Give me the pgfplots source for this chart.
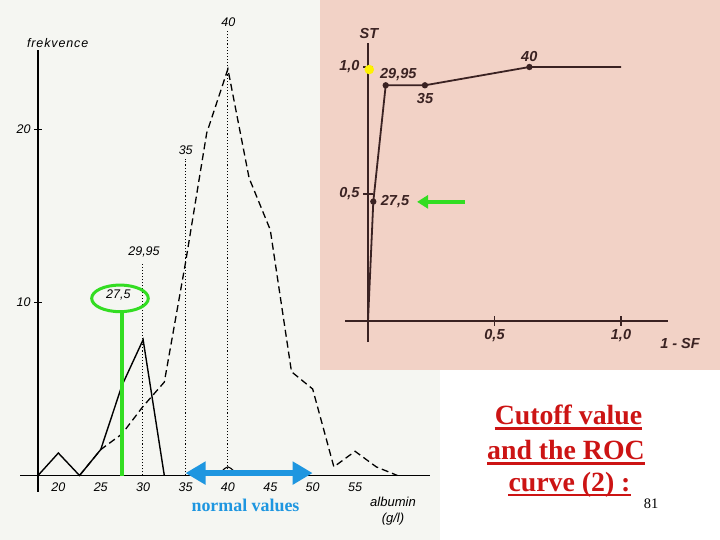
\documentclass[border=0pt]{standalone}
\usepackage{fontspec}
\setmainfont{Liberation Serif}
\setsansfont{Liberation Sans}
\usepackage{pgfplots}
\pgfplotsset{compat=1.18}
\usetikzlibrary{arrows.meta}
\definecolor{leftbg}{HTML}{F5F6F2}
\definecolor{pinkbg}{HTML}{F2D2C6}
\definecolor{rocline}{HTML}{3A2222}
\definecolor{mygreen}{HTML}{33DD22}
\definecolor{myblue}{HTML}{1E96E0}
\definecolor{myred}{HTML}{CC1414}
\definecolor{myyellow}{HTML}{FFF200}
\newcommand{\lab}{\sffamily\itshape\fontsize{12.5}{15}\selectfont}
\newcommand{\rlab}{\sffamily\bfseries\itshape\fontsize{14.5}{17}\selectfont}
\newcommand{\redfont}{\rmfamily\bfseries\fontsize{27.8}{33}\selectfont}
\begin{document}
\begin{tikzpicture}
\fill[white] (0pt,0pt) rectangle (720pt,-540pt);
\fill[leftbg] (0pt,0pt) rectangle (440pt,-540pt);
\fill[pinkbg] (320pt,0pt) rectangle (720pt,-370pt);

% ---------------- left chart: frequency polygons ----------------
\begin{axis}[at={(38pt,-475.5pt)}, anchor=south west, scale only axis,
  width=392pt, height=425.5pt,
  xmin=17.6, xmax=63.84, ymin=0, ymax=24.6, clip=false,
  axis line style={draw=none},
  xtick={20,25,...,55}, ytick={10,20},
  tick pos=left, tick align=center, major tick length=8pt,
  xtick style={draw=none}, ytick style={black, line width=1.2pt},
  ticklabel style={font=\lab},
  /pgf/number format/assume math mode=true,
]
\draw[black, line width=1.3pt] (axis cs:15.5,0) -- (axis cs:63.84,0);
\draw[black, line width=1.3pt] (axis cs:17.6,-0.95) -- (axis cs:17.6,24.6);
\addplot[black, dotted, line width=1.1pt, forget plot] coordinates {(29.95,0) (29.95,12.3)};
\addplot[black, dotted, line width=1.1pt, forget plot] coordinates {(35,0) (35,18.3)};
\addplot[black, dotted, line width=1.1pt, forget plot] coordinates {(40,0) (40,25.8)};
% sick (solid)
\addplot[black, line width=1.4pt, sharp plot] coordinates {
 (17.6,0) (20,1.3) (22.5,0) (25,1.5) (27.5,5.2) (30,7.85) (32.5,0)};
\addplot[black, line width=1.1pt, smooth] coordinates {(38.8,0) (40,0.5) (41.2,0)};
% healthy (dashed)
\addplot[black, line width=1.3pt, sharp plot, dash pattern=on 7pt off 4pt] coordinates {
 (22.5,0) (25,1.5) (27.5,2.4) (30,4.0) (32.5,5.4) (35,12.3) (37.5,19.8) (40,23.5)
 (42.5,17.2) (45,14.2) (47.5,6.0) (50,5.0) (52.5,0.5) (55,1.4) (57.5,0.5) (60,0)};
% annotations
\draw[mygreen, line width=4pt] (axis cs:27.5,0) -- (axis cs:27.5,9.5);
\draw[mygreen, line width=3pt] (axis cs:27.27,10.24) ellipse [x radius=28.3pt, y radius=13.3pt];
\draw[myblue, line width=6pt, {Triangle[length=20pt,width=22pt]}-{Triangle[length=20pt,width=22pt]}]
  (axis cs:35,0.14) -- (axis cs:50,0.14);
\end{axis}

\node[font=\lab] at (57.7pt,-43.3pt) {\addfontfeatures{LetterSpace=7}frekvence};
\node[font=\lab] at (144pt,-252pt) {29,95};
\node[font=\lab] at (185.7pt,-150pt) {35};
\node[font=\lab] at (228.3pt,-21.7pt) {40};
\node[font=\lab] at (118.3pt,-295pt) {27,5};
\node[font=\lab\fontsize{13}{16}\selectfont, align=center] at (393pt,-511pt) {albumin\\(g/l)};
\node[font=\rmfamily\bfseries\fontsize{17.9}{20}\selectfont, text=myblue, anchor=base] at (245.5pt,-511.5pt) {normal values};

% ---------------- right chart: ROC curve ----------------
\begin{axis}[at={(345pt,-342pt)}, anchor=south west, scale only axis,
  width=323pt, height=299pt,
  xmin=-0.0909, xmax=1.1858, ymin=-0.0827, ymax=1.0945, clip=false,
  axis lines=middle, axis line style={-, rocline, line width=1.6pt},
  xtick={0.5,1}, ytick={0.5,1},
  xticklabels={{0,5},{1,0}}, yticklabels={{0,5},{1,0}},
  tick style={rocline, line width=1.4pt}, major tick length=10pt,
  ticklabel style={font=\rlab, text=rocline},
]
\addplot[rocline, line width=1.8pt, sharp plot, mark=*, mark size=2.2pt, mark indices={2,3,4,5}]
  coordinates {(0,0) (0.021,0.47) (0.070,0.928) (0.225,0.928) (0.638,1.0) (1.0,1.0)};
\fill[myyellow] (axis cs:0.005,0.99) circle[radius=4.8pt];
\draw[mygreen, line width=4pt, -{Triangle[length=11pt,width=13pt]}]
  (axis cs:0.383,0.469) -- (axis cs:0.194,0.469);
\end{axis}

\node[font=\rlab, text=rocline] at (369pt,-33.3pt) {ST};
\node[font=\rlab, text=rocline] at (680pt,-343.3pt) {1 - SF};
\node[font=\rlab, text=rocline] at (398.3pt,-75pt) {29,95};
\node[font=\rlab, text=rocline] at (425pt,-99pt) {35};
\node[font=\rlab, text=rocline] at (529.3pt,-56.7pt) {40};
\node[font=\rlab, text=rocline] at (395pt,-201.7pt) {27,5};

% ---------------- slide title ----------------
\node[anchor=base, inner sep=0pt, font=\redfont, text=myred] (t1) at (568.5pt,-424.5pt) {Cutoff value};
\draw[myred, line width=2.7pt] ([yshift=-4pt]t1.base west) -- ([yshift=-4pt]t1.base east);
\node[anchor=base, inner sep=0pt, font=\redfont, text=myred] (t2) at (566pt,-459.5pt) {and the ROC};
\draw[myred, line width=2.7pt] ([yshift=-4pt]t2.base west) -- ([yshift=-4pt]t2.base east);
\node[anchor=base, inner sep=0pt, font=\redfont, text=myred] (t3) at (569.5pt,-491pt) {curve (2) :};
\draw[myred, line width=2.7pt] ([yshift=-4pt]t3.base west) -- ([yshift=-4pt]t3.base east);
\node[font=\rmfamily\fontsize{14.5}{16}\selectfont] at (651pt,-504pt) {81};

\pgfresetboundingbox
\useasboundingbox (0pt,0pt) rectangle (720pt,-540pt);
\end{tikzpicture}
\end{document}
